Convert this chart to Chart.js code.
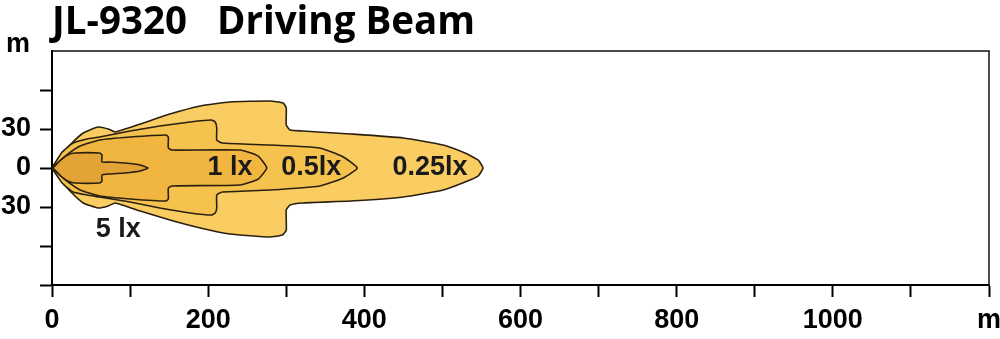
<!DOCTYPE html>
<html>
<head>
<meta charset="utf-8">
<script src="https://cdn.jsdelivr.net/npm/chart.js@4/dist/chart.umd.min.js"></script>
<style>
  body { margin: 0; background: #fff; }
  canvas { display: block; }
</style>
</head>
<body>
<canvas id="beamChart" width="1000" height="339"></canvas>
<script>
// isolux contours, [distance m, lateral m]
var lux025 = [[0,0],[10,8.5],[23,17.7],[40,26.9],[59,31.5],[72,30],[81,27.7],[113,33.8],[151,41.5],[190,47.7],[228,50.8],[279,51.5],[296,50],[300,46.2],[300,33.1],[305,29.2],[321,28.5],[382,26.2],[450,23.1],[501,17.7],[529,11.5],[546,6],[552,0],
              [546,-6],[529,-10.8],[501,-16.9],[450,-22.3],[382,-25.4],[321,-26.9],[305,-28.5],[300,-32.3],[300,-47.7],[295,-51.5],[279,-53.1],[228,-50.8],[190,-46.2],[151,-40],[113,-33.1],[81,-26.9],[72,-29.2],[59,-30.8],[40,-26.9],[23,-17.7],[10,-8.5],[0,0]];
var lux05 = [[0,0],[13,12.3],[27,19.2],[45,22.3],[61,23.8],[100,28.5],[138,32.3],[177,35.4],[204,36.9],[209,35.4],[211,30.8],[211,21.5],[218,19.2],[279,17.7],[343,15.4],[373,8.5],[391,0],
             [373,-7.7],[343,-13.8],[279,-16.9],[218,-18.5],[211,-20.8],[211,-30.8],[209,-34.6],[204,-36.2],[177,-34.6],[138,-30.8],[100,-26.2],[61,-22.3],[45,-20.8],[27,-18.5],[13,-11.5],[0,0]];
var lux1 = [[0,0],[17,9.2],[36,16.9],[61,21.5],[100,23.8],[146,25.4],[149,23.8],[149,15.4],[154,13.8],[241,13.8],[264,9.2],[275,0],
            [264,-8.5],[241,-13.1],[154,-13.8],[149,-15.4],[149,-23.8],[146,-25.4],[100,-23.8],[61,-21.5],[36,-16.9],[17,-9.2],[0,0]];
var lux5 = [[1,0],[10,5.4],[20,10],[29,11.5],[61,11.5],[64,10],[64,4.6],[74,4.6],[93,3.8],[113,2.3],[123,0],
            [113,-2.3],[93,-3.8],[74,-4.6],[64,-5.4],[64,-10],[61,-11.5],[29,-11.5],[20,-10],[10,-5.4],[1,0]];

var labelText = ['1 lx', '0.5lx', '0.25lx', '5 lx'];
var labelX = [228, 332, 484, 85];
var labelY = [0, 0, 0, -47];

var xLabelTicks = [0, 200, 400, 600, 800, 1000];
var yLabelTicks = [-30, 0, 30];

function pts(a) {
    return a.map(function (p) { return { x: p[0], y: p[1] }; });
}
function contour(name, arr, color) {
    return {
        label: name,
        data: pts(arr),
        showLine: true,
        fill: 'shape',
        backgroundColor: color,
        borderColor: '#2b2010',
        borderWidth: 1.6,
        pointRadius: 0,
        tension: 0.15
    };
}

var extras = {
    id: 'extras',
    afterDatasetsDraw: function (chart) {
        var ctx = chart.ctx, a = chart.chartArea;
        var xs = chart.scales.x, ys = chart.scales.y;
        ctx.save();
        // frame top / right
        ctx.strokeStyle = '#111';
        ctx.lineWidth = 1.5;
        ctx.beginPath();
        ctx.moveTo(a.left, a.top);
        ctx.lineTo(a.right, a.top);
        ctx.lineTo(a.right, a.bottom);
        ctx.stroke();
        // lux labels
        ctx.fillStyle = '#1a1a1a';
        ctx.font = 'bold 27px "Liberation Sans", Arial, sans-serif';
        ctx.textAlign = 'center';
        ctx.textBaseline = 'middle';
        for (var i = 0; i < labelText.length; i++) {
            ctx.fillText(labelText[i], xs.getPixelForValue(labelX[i]), ys.getPixelForValue(labelY[i]));
        }
        // y unit
        ctx.fillStyle = '#000';
        ctx.fillText('m', a.left - 34, a.top - 6);
        // title
        ctx.font = 'bold 38.5px "Open Sans", sans-serif';
        ctx.textAlign = 'left';
        ctx.textBaseline = 'alphabetic';
        ctx.fillText('JL-9320   Driving Beam', a.left, 34);
        ctx.restore();
    }
};

var tickFont = { family: '"Liberation Sans", Arial, sans-serif', weight: 'bold', size: 27 };

new Chart(document.getElementById('beamChart'), {
    type: 'scatter',
    data: {
        datasets: [
            contour('5 lx', lux5, '#e3a436'),
            contour('1 lx', lux1, '#f1b640'),
            contour('0.5 lx', lux05, '#f5c24e'),
            contour('0.25 lx', lux025, '#f9cd62')
        ]
    },
    options: {
        responsive: false,
        animation: false,
        layout: { padding: { top: 51, right: 0, left: 0, bottom: 0 } },
        plugins: { legend: { display: false }, tooltip: { enabled: false } },
        scales: {
            x: {
                type: 'linear',
                min: 0,
                max: 1200,
                afterFit: function (s) { s.height = 54; s.paddingLeft = 0; s.paddingRight = 11; },
                border: { display: true, color: '#000', width: 2 },
                grid: { drawOnChartArea: false, tickLength: 12, tickColor: '#000', tickWidth: 2 },
                ticks: {
                    stepSize: 100,
                    padding: 7,
                    color: '#000',
                    font: tickFont,
                    autoSkip: false,
                    maxRotation: 0,
                    callback: function (v) {
                        if (v === 1200) return 'm';
                        return xLabelTicks.indexOf(v) >= 0 ? String(v) : '';
                    }
                }
            },
            y: {
                type: 'linear',
                min: -90,
                max: 90,
                afterFit: function (s) { s.width = 52; },
                border: { display: true, color: '#000', width: 2 },
                grid: {
                    drawOnChartArea: false,
                    tickLength: 12,
                    tickWidth: 2,
                    tickColor: function (c) { return c.tick && c.tick.value === 90 ? 'rgba(0,0,0,0)' : '#000'; }
                },
                ticks: {
                    stepSize: 30,
                    padding: 9,
                    color: '#000',
                    font: tickFont,
                    autoSkip: false,
                    callback: function (v) {
                        return yLabelTicks.indexOf(v) >= 0 ? String(Math.abs(v)) : '';
                    }
                }
            }
        }
    },
    plugins: [extras]
});
</script>
</body>
</html>
